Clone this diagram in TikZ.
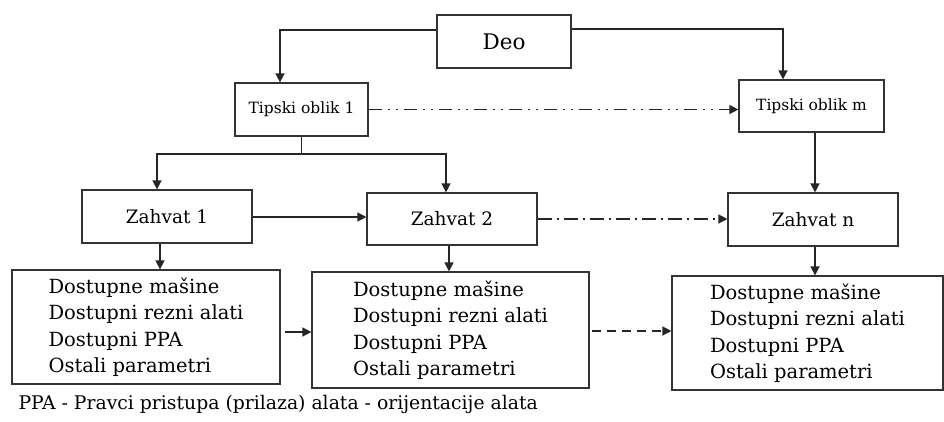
\documentclass[tikz,border=0pt]{standalone}
\usepackage{fontspec}
\setmainfont{DejaVu Serif}
\usetikzlibrary{arrows.meta}

\begin{document}
\begin{tikzpicture}[x=1pt,y=-1pt,
    blok/.style={draw=black!80,line width=1.2pt,inner sep=0pt,minimum height=53pt},
    lista/.style={draw=black!80,line width=1.2pt,inner sep=0pt,align=left,minimum height=114pt,font=\fontsize{19.5}{26.5}\selectfont},
    linija/.style={line width=1.4pt,draw=black!85},
    veza/.style={linija,-{Triangle[length=9pt,width=9pt]}}]
    \useasboundingbox (0,0) rectangle (944,421);

    % Deo i tipski oblici
    \node[blok,minimum width=134pt,font=\fontsize{21.5}{24}\selectfont] (deo) at (504,41.5) {Deo};
    \node[blok,minimum width=133pt,font=\fontsize{15.5}{18}\selectfont] (tip1) at (301.5,109.5) {Tipski oblik 1};
    \node[blok,minimum width=145pt,minimum height=52pt,font=\fontsize{15.5}{18}\selectfont] (tipm) at (811.5,106) {Tipski oblik m};

    % Zahvati
    \node[blok,minimum width=170pt,font=\fontsize{18.5}{22}\selectfont] (zah1) at (167,216.5) {Zahvat 1};
    \node[blok,minimum width=170pt,minimum height=52pt,font=\fontsize{18.5}{22}\selectfont] (zah2) at (452,219) {Zahvat 2};
    \node[blok,minimum width=170pt,font=\fontsize{18.5}{22}\selectfont] (zahn) at (813,219.5) {Zahvat n};

    % Resursi
    \node[lista,minimum width=268pt] (res1) at (146,327) {Dostupne mašine\\Dostupni rezni alati\\Dostupni PPA\\Ostali parametri};
    \node[lista,minimum width=277pt,minimum height=116pt] (res2) at (450.5,330) {Dostupne mašine\\Dostupni rezni alati\\Dostupni PPA\\Ostali parametri};
    \node[lista,minimum width=271pt] (resn) at (807.5,333) {Dostupne mašine\\Dostupni rezni alati\\Dostupni PPA\\Ostali parametri};

    \node[anchor=west,font=\fontsize{18.8}{22}\selectfont] (napomena) at (15,404) {PPA - Pravci pristupa (prilaza) alata - orijentacije alata};

    % Veze
    \draw[veza] ([yshift=11.5pt]deo.west) -| ([xshift=-21.5pt]tip1.north);
    \draw[veza] ([yshift=12.5pt]deo.east) -| ([xshift=-28.5pt]tipm.north);
    \draw[veza,dash pattern=on 13pt off 6pt on 2pt off 6pt on 2pt off 6pt] (tip1.east) -- (tip1.east -| tipm.west);

    \coordinate (grana) at (301.5,154);
    \draw[linija] (tip1.south) -- (grana);
    \draw[veza] (grana) -| ([xshift=-10pt]zah1.north);
    \draw[veza] (grana) -| ([xshift=-6pt]zah2.north);
    \draw[veza] ([xshift=3.5pt]tipm.south) -- ([xshift=3.5pt]tipm.south |- zahn.north);

    \draw[veza] ([yshift=-0.5pt]zah1.east) -- ([yshift=-0.5pt]zah1.east -| zah2.west);
    \draw[veza,dash pattern=on 14pt off 5pt on 2pt off 5pt] (zah2.east) -- (zah2.east -| zahn.west);

    \draw[veza] ([xshift=-7pt]zah1.south) -- ([xshift=-7pt]zah1.south |- res1.north);
    \draw[veza] ([xshift=-3pt]zah2.south) -- ([xshift=-3pt]zah2.south |- res2.north);
    \draw[veza] ([xshift=2pt]zahn.south) -- ([xshift=2pt]zahn.south |- resn.north);

    \draw[veza,shorten <=4pt] ([yshift=-5pt]res1.east) -- ([yshift=-5pt]res1.east -| res2.west);
    \draw[veza,dash pattern=on 9pt off 6pt,shorten <=2pt] ([yshift=-1pt]res2.east) -- ([yshift=-1pt]res2.east -| resn.west);
\end{tikzpicture}
\end{document}
